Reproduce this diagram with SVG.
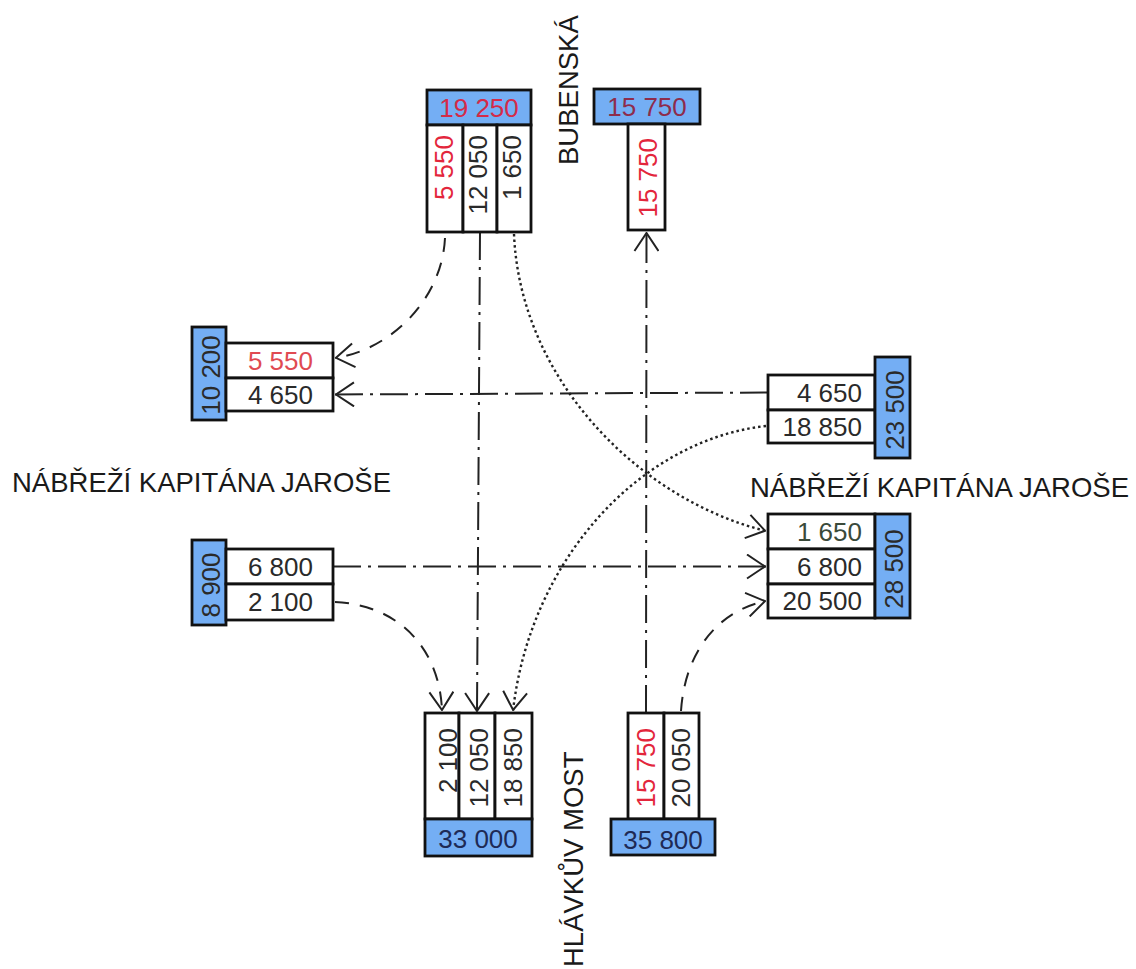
<svg xmlns="http://www.w3.org/2000/svg" width="1136" height="969" viewBox="0 0 1136 969">
<style>
.cell{fill:#fff;stroke:#111;stroke-width:2.8}
.blue{fill:#74aef4;stroke:#111;stroke-width:2.8}
.n{font-family:"Liberation Sans",Arial,sans-serif;font-size:26px;fill:#2a2a2a}
.r{fill:#e3263c}
.lbl{font-family:"Liberation Sans",Arial,sans-serif;font-size:27.5px;fill:#1a1a1a}
.c{fill:none;stroke:#222;stroke-width:2}
.dd{stroke-dasharray:28 7 3 7}
.da{stroke-dasharray:14 11}
.dt{stroke-dasharray:2.5 3;stroke-width:2.4}
</style>
<defs>
<marker id="ah" viewBox="0 0 20 26" refX="20" refY="13" markerWidth="20" markerHeight="26" markerUnits="userSpaceOnUse" orient="auto">
<path d="M1,1 L19,13 L1,25" fill="none" stroke="#222" stroke-width="2"/>
</marker>
</defs>
<rect width="1136" height="969" fill="#fff"/>

<g id="connectors">
<path class="c da" d="M445,238 C442,300 390,350 335,358" marker-end="url(#ah)"/>
<path class="c dd" d="M480,232 L477,712" marker-end="url(#ah)"/>
<path class="c dt" d="M514,234 C520,380 640,500 766,531" marker-end="url(#ah)"/>
<path class="c dd" d="M646,713 L646.5,232" marker-end="url(#ah)"/>
<path class="c dd" d="M768,392.5 L335,394.5" marker-end="url(#ah)"/>
<path class="c dt" d="M766,426 C640,440 530,560 513,711" marker-end="url(#ah)"/>
<path class="c dd" d="M333,566.5 L766,566.5" marker-end="url(#ah)"/>
<path class="c da" d="M335,602 C400,605 440,650 442,711" marker-end="url(#ah)"/>
<path class="c da" d="M681,711 C685,650 720,610 766,601" marker-end="url(#ah)"/>
</g>

<g id="node-bubenska-in">
<rect class="blue" x="427" y="90" width="104" height="35"/>
<text class="n" x="479" y="117" text-anchor="middle" style="fill:#d42a48">19 250</text>
<rect class="cell" x="427" y="125" width="36" height="107"/>
<rect class="cell" x="463" y="125" width="34" height="107"/>
<rect class="cell" x="497" y="125" width="34" height="107"/>
<text class="n r" transform="translate(453,135) rotate(-90)" text-anchor="end">5 550</text>
<text class="n" transform="translate(487,135) rotate(-90)" text-anchor="end">12 050</text>
<text class="n" transform="translate(521,135) rotate(-90)" text-anchor="end">1 650</text>
</g>

<g id="node-bubenska-out">
<rect class="blue" x="594" y="89" width="106" height="35"/>
<text class="n" x="647" y="116" text-anchor="middle" style="fill:#8e2c4c">15 750</text>
<rect class="cell" x="628" y="124" width="37" height="106"/>
<text class="n r" transform="translate(657,138) rotate(-90)" text-anchor="end">15 750</text>
</g>

<g id="node-west-out">
<rect class="blue" x="192" y="327" width="34" height="93"/>
<text class="n" transform="translate(220,375) rotate(-90)" text-anchor="middle">10 200</text>
<rect class="cell" x="226" y="343" width="107" height="35"/>
<rect class="cell" x="226" y="378" width="107" height="33"/>
<text class="n" x="313" y="369.5" text-anchor="end" style="fill:#e04a52">5 550</text>
<text class="n" x="313" y="403.5" text-anchor="end">4 650</text>
</g>

<g id="node-east-in">
<rect class="cell" x="768" y="375" width="107" height="35"/>
<rect class="cell" x="768" y="410" width="107" height="33"/>
<rect class="blue" x="875" y="357" width="35" height="101"/>
<text class="n" x="862" y="401.5" text-anchor="end">4 650</text>
<text class="n" x="862" y="435.5" text-anchor="end">18 850</text>
<text class="n" transform="translate(904,410) rotate(-90)" text-anchor="middle">23 500</text>
</g>

<g id="node-east-out">
<rect class="cell" x="768" y="514" width="107" height="35"/>
<rect class="cell" x="768" y="549" width="107" height="35"/>
<rect class="cell" x="768" y="584" width="107" height="34"/>
<rect class="blue" x="875" y="514" width="35" height="104"/>
<text class="n" x="862" y="540.5" text-anchor="end" style="fill:#3a4a3a">1 650</text>
<text class="n" x="862" y="575.5" text-anchor="end">6 800</text>
<text class="n" x="862" y="610" text-anchor="end">20 500</text>
<text class="n" transform="translate(903,569) rotate(-90)" text-anchor="middle">28 500</text>
</g>

<g id="node-west-in">
<rect class="blue" x="192" y="540" width="34" height="85"/>
<text class="n" transform="translate(220,585) rotate(-90)" text-anchor="middle">8 900</text>
<rect class="cell" x="226" y="549" width="107" height="35"/>
<rect class="cell" x="226" y="584" width="107" height="36"/>
<text class="n" x="313" y="575.5" text-anchor="end">6 800</text>
<text class="n" x="313" y="611" text-anchor="end">2 100</text>
</g>

<g id="node-hlavkuv-out">
<rect class="cell" x="425" y="713" width="34" height="106"/>
<rect class="cell" x="459" y="713" width="36" height="106"/>
<rect class="cell" x="495" y="713" width="37" height="106"/>
<rect class="blue" x="425" y="819" width="107" height="37"/>
<text class="n" transform="translate(457,728) rotate(-90)" text-anchor="end">2 100</text>
<text class="n" transform="translate(488,728) rotate(-90)" text-anchor="end">12 050</text>
<text class="n" transform="translate(522,728) rotate(-90)" text-anchor="end">18 850</text>
<text class="n" x="478" y="848" text-anchor="middle" style="fill:#1e2a55">33 000</text>
</g>

<g id="node-hlavkuv-in">
<rect class="cell" x="628" y="713" width="36" height="106"/>
<rect class="cell" x="664" y="713" width="35" height="106"/>
<rect class="blue" x="611" y="819" width="104" height="36"/>
<text class="n r" transform="translate(655,728) rotate(-90)" text-anchor="end">15 750</text>
<text class="n" transform="translate(690,728) rotate(-90)" text-anchor="end">20 050</text>
<text class="n" x="663" y="849" text-anchor="middle" style="fill:#1e2a55">35 800</text>
</g>

<g id="labels">
<text class="lbl" transform="translate(578,165) rotate(-90)">BUBENSKÁ</text>
<text class="lbl" transform="translate(583,967) rotate(-90)">HLÁVKŮV MOST</text>
<text class="lbl" x="12" y="492">NÁBŘEŽÍ KAPITÁNA JAROŠE</text>
<text class="lbl" x="750" y="497">NÁBŘEŽÍ KAPITÁNA JAROŠE</text>
</g>
</svg>
